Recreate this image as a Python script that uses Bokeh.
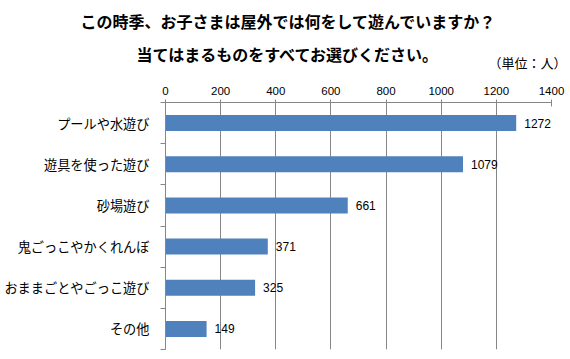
from bokeh.plotting import figure
from bokeh.models import (Range1d, FixedTicker, ColumnDataSource, LabelSet, Title)
from bokeh.core.properties import value
from bokeh.embed import file_html
from bokeh.resources import INLINE

# ---- data ----
categories = ["プールや水遊び", "遊具を使った遊び", "砂場遊び",
              "鬼ごっこやかくれんぼ", "おままごとやごっこ遊び", "その他"]
values = [1272, 1079, 661, 371, 325, 149]
x_ticks = [0, 200, 400, 600, 800, 1000, 1200, 1400]
title_line1 = "この時季、お子さまは屋外では何をして遊んでいますか？"
title_line2 = "当てはまるものをすべてお選びください。"
unit_text = "（単位：人）"

n = len(categories)
ypos = [n - i - 0.5 for i in range(n)]
src = ColumnDataSource(dict(cat=categories, val=values, y=ypos,
                            lbl=[str(v) for v in values]))

JP = "Noto Sans CJK JP"
NUM = "Liberation Sans"
GRID = "#868686"
BAR = "#4F81BD"

p = figure(width=570, height=359, output_backend="svg", toolbar_location=None,
           x_range=Range1d(0, 1400), y_range=Range1d(0, n),
           x_axis_location="above",
           min_border_left=165, min_border_right=19,
           min_border_top=100, min_border_bottom=10)
p.outline_line_color = None
p.background_fill_color = "white"
p.border_fill_color = "white"

p.hbar(y="y", right="val", left=0, height=0.39, source=src,
       fill_color=BAR, line_color=None)

# x axis (top)
xa = p.xaxis[0]
xa.ticker = FixedTicker(ticks=x_ticks, minor_ticks=[])
xa.axis_line_color = GRID
xa.major_tick_line_color = GRID
xa.major_tick_out = 3
xa.major_tick_in = 4
xa.minor_tick_line_color = None
xa.major_label_text_font = NUM
xa.major_label_text_font_size = "11.5px"
xa.major_label_text_color = "#000000"
xa.major_label_standoff = 5

# y axis (categories)
ya = p.yaxis[0]
ya.ticker = FixedTicker(ticks=ypos, minor_ticks=list(range(n + 1)))
ya.major_label_overrides = {y: c for y, c in zip(ypos, categories)}
ya.axis_line_color = GRID
ya.major_tick_line_color = None
ya.major_tick_out = 0
ya.major_tick_in = 0
ya.minor_tick_line_color = GRID
ya.minor_tick_out = 5
ya.minor_tick_in = 0
ya.major_label_text_font = JP
ya.major_label_text_font_size = "13.2px"
ya.major_label_text_color = "#000000"
ya.major_label_standoff = 11

p.xgrid.ticker = FixedTicker(ticks=x_ticks)
p.xgrid.grid_line_color = GRID
p.ygrid.grid_line_color = None

labels = LabelSet(x="val", y="y", text="lbl", source=src, x_offset=8,
                  text_baseline="middle", text_align="left",
                  text_font=value(NUM), text_font_size=value("12px"),
                  text_color="#000000")
p.add_layout(labels)

# titles stacked above the top axis (first added = closest to axis)
p.add_layout(Title(text=unit_text, align="right", offset=-15, standoff=24,
                   text_font=JP, text_font_size="13px", text_font_style="normal",
                   text_color="#000000"), "above")
p.add_layout(Title(text=title_line2, align="left", offset=-29, standoff=-54,
                   text_font=JP, text_font_size="16px", text_font_style="bold",
                   text_color="#000000"), "above")
p.add_layout(Title(text=title_line1, align="left", offset=-85, standoff=12,
                   text_font=JP, text_font_size="16px", text_font_style="bold",
                   text_color="#000000"), "above")

open("out.html", "w").write(file_html(p, INLINE))
